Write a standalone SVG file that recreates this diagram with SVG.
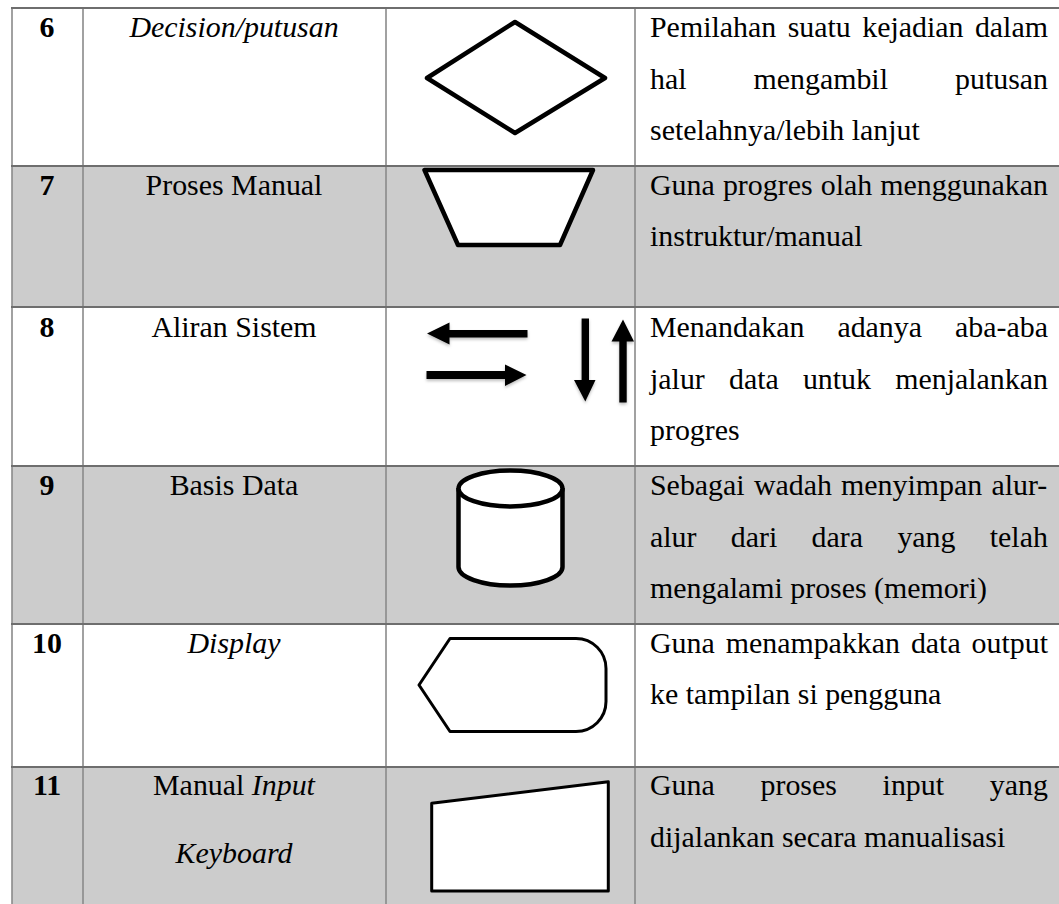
<svg xmlns="http://www.w3.org/2000/svg" width="1059" height="904" viewBox="0 0 1059 904">
  <style>
    .t { font-family: "Liberation Serif", "Times New Roman", serif; font-size: 29.9px; fill: #000; }
    .c { text-anchor: middle; }
    .b { font-weight: bold; }
    .i { font-style: italic; }
    .grey { fill: #cccccc; }
    .white { fill: #ffffff; }
    .hl { stroke: #6e6e6e; stroke-width: 2; fill: none; }
    .vl { stroke: #8a8a8a; stroke-width: 1.6; fill: none; }
    .sym { fill: #ffffff; stroke: #000; stroke-linejoin: round; }
    .arr { fill: #000; }
  </style>
  <defs>
    <filter id="sh" x="-20%" y="-20%" width="140%" height="160%">
      <feDropShadow dx="0" dy="2" stdDeviation="1.5" flood-color="#000" flood-opacity="0.25"/>
    </filter>
  </defs>
  <rect x="0" y="0" width="1059" height="904" fill="#ffffff"/>

  <!-- row 6 -->
  <g id="row6">
    <rect class="white" x="12" y="8" width="1047" height="158"/>
    <text class="t b c" x="47" y="37">6</text>
    <text class="t i c" x="234" y="37">Decision/putusan</text>
    <polygon class="sym" stroke-width="4.5" points="515,22 605,78 515,133 427,78"/>
    <text class="t" y="37"><tspan x="650">Pemilahan</tspan><tspan x="787.7">suatu</tspan><tspan x="862.2">kejadian</tspan><tspan x="974.9">dalam</tspan></text>
    <text class="t" y="89"><tspan x="650">hal</tspan><tspan x="753.5">mengambil</tspan><tspan x="955">putusan</tspan></text>
    <text class="t" x="650" y="140">setelahnya/lebih lanjut</text>
  </g>

  <!-- row 7 -->
  <g id="row7">
    <rect class="grey" x="12" y="166" width="1047" height="141"/>
    <text class="t b c" x="47" y="195">7</text>
    <text class="t c" x="234" y="195">Proses Manual</text>
    <polygon class="sym" stroke-width="4.5" points="424.5,170 593,170 560,245 458,245"/>
    <text class="t" y="195"><tspan x="650">Guna</tspan><tspan x="722.9">progres</tspan><tspan x="820.7">olah</tspan><tspan x="880.3">menggunakan</tspan></text>
    <text class="t" x="650" y="246">instruktur/manual</text>
  </g>

  <!-- row 8 -->
  <g id="row8">
    <rect class="white" x="12" y="307" width="1047" height="159"/>
    <text class="t b c" x="47" y="337">8</text>
    <text class="t c" x="234" y="337">Aliran Sistem</text>
    <g filter="url(#sh)">
      <polygon class="arr" points="427,333.5 449.5,322.5 449.5,330 527.5,330 527.5,337.5 449.5,337.5 449.5,344.5"/>
      <polygon class="arr" points="526.5,375 505,364.5 505,371 426.5,371 426.5,379 505,379 505,386"/>
      <polygon class="arr" points="585.3,401.5 574,380 581.6,380 581.6,318.5 589,318.5 589,380 595.5,380"/>
      <polygon class="arr" points="623,319.5 611.5,341.5 619.3,341.5 619.3,402.5 626.7,402.5 626.7,341.5 634,341.5"/>
    </g>
    <text class="t" y="337"><tspan x="650">Menandakan</tspan><tspan x="837.4">adanya</tspan><tspan x="955">aba-aba</tspan></text>
    <text class="t" y="389"><tspan x="650">jalur</tspan><tspan x="729">data</tspan><tspan x="802.9">untuk</tspan><tspan x="895.2">menjalankan</tspan></text>
    <text class="t" x="650" y="440">progres</text>
  </g>

  <!-- row 9 -->
  <g id="row9">
    <rect class="grey" x="12" y="466" width="1047" height="158"/>
    <text class="t b c" x="47" y="495">9</text>
    <text class="t c" x="234" y="495">Basis Data</text>
    <path class="sym" stroke-width="4.5" d="M458.5,488 L458.5,567 A52,18.5 0 0 0 562.5,567 L562.5,488"/>
    <ellipse class="sym" stroke-width="4.5" cx="510.5" cy="488.5" rx="52" ry="18"/>
    <text class="t" y="495"><tspan x="650">Sebagai</tspan><tspan x="753.9">wadah</tspan><tspan x="841.1">menyimpan</tspan><tspan x="991.5">alur-</tspan></text>
    <text class="t" y="547"><tspan x="650">alur</tspan><tspan x="730.8">dari</tspan><tspan x="811.6">dara</tspan><tspan x="897.4">yang</tspan><tspan x="989.8">telah</tspan></text>
    <text class="t" x="650" y="598">mengalami proses (memori)</text>
  </g>

  <!-- row 10 -->
  <g id="row10">
    <rect class="white" x="12" y="624" width="1047" height="143"/>
    <text class="t b c" x="47" y="653">10</text>
    <text class="t i c" x="234" y="653">Display</text>
    <path class="sym" stroke-width="3" d="M419,685 L450,638.5 L576,638.5 A30,30 0 0 1 606,668.5 L606,701.5 A30,30 0 0 1 576,731.5 L450,731.5 Z"/>
    <text class="t" y="653"><tspan x="650">Guna</tspan><tspan x="725.7">menampakkan</tspan><tspan x="910.9">data</tspan><tspan x="971.6">output</tspan></text>
    <text class="t" x="650" y="704">ke tampilan si pengguna</text>
  </g>

  <!-- row 11 -->
  <g id="row11">
    <rect class="grey" x="12" y="767" width="1047" height="137"/>
    <text class="t b c" x="47" y="795">11</text>
    <text class="t c" x="234" y="795">Manual <tspan class="i">Input</tspan></text>
    <text class="t i c" x="234" y="863">Keyboard</text>
    <polygon class="sym" stroke-width="3" points="431.7,803.3 608.3,781.7 608.3,891 431.7,891"/>
    <text class="t" y="795"><tspan x="650">Guna</tspan><tspan x="760.5">proses</tspan><tspan x="882.6">input</tspan><tspan x="989.8">yang</tspan></text>
    <text class="t" x="650" y="847">dijalankan secara manualisasi</text>
  </g>

  <!-- grid -->
  <g id="grid">
    <line class="vl" x1="12" y1="8" x2="12" y2="904"/>
    <line class="vl" x1="83" y1="8" x2="83" y2="904"/>
    <line class="vl" x1="386" y1="8" x2="386" y2="904"/>
    <line class="vl" x1="635" y1="8" x2="635" y2="904"/>
    <line class="hl" x1="11" y1="8" x2="1059" y2="8"/>
    <line class="hl" x1="11" y1="166" x2="1059" y2="166"/>
    <line class="hl" x1="11" y1="307" x2="1059" y2="307"/>
    <line class="hl" x1="11" y1="466" x2="1059" y2="466"/>
    <line class="hl" x1="11" y1="624" x2="1059" y2="624"/>
    <line class="hl" x1="11" y1="767" x2="1059" y2="767"/>
  </g>
</svg>
